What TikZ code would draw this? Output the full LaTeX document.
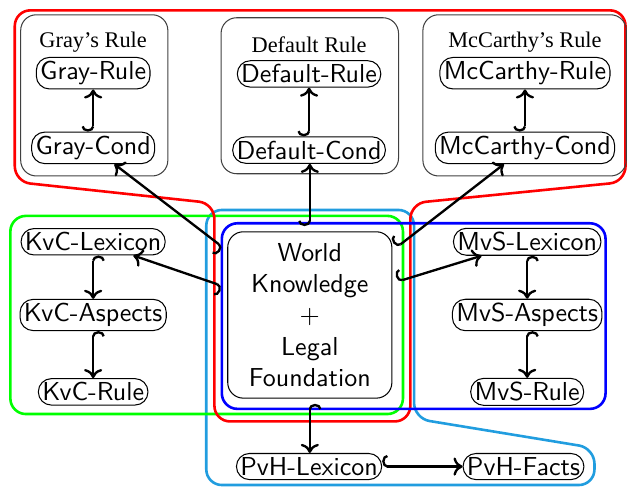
\documentclass[tikz,border=0pt]{standalone}
\usepackage{fontspec}
\newfontfamily\titlefont{Liberation Serif}
\usetikzlibrary{arrows.meta}

\tikzset{
  item/.style={draw, rounded corners=5pt, inner sep=1.5pt, font=\sffamily},
  title/.style={font=\titlefont\fontsize{8.6}{10}\selectfont, inner sep=1pt},
  frame/.style={draw=black!75, rounded corners=6pt},
  group/.style={line width=1pt, rounded corners=6pt},
  hk/.style={{Hooks[right,length=2pt,width=9pt]}-{To[length=3.5pt,width=7pt]}, line width=0.9pt},
}

\begin{document}
\begin{tikzpicture}
  \useasboundingbox (0,0) rectangle (8.48,6.59);

  % groups
  \draw[group, cyan!80!blue!90] (2.79,3.75) -- (5.60,3.75) -- (5.60,0.93) -- (8.04,0.53) -- (8.04,0.03) -- (2.79,0.03) -- cycle;
  \draw[group, green] (0.14,3.67) rectangle (5.45,0.99);
  \draw[group, red] (0.20,6.45) -- (8.46,6.45) -- (8.46,4.13) -- (5.55,3.84) -- (5.55,0.89) -- (2.90,0.89) -- (2.90,3.84) -- (0.20,4.13) -- cycle;
  \draw[group, blue] (3.00,3.57) rectangle (8.19,1.06);

  % rule frames
  \draw[frame] (0.28,6.39) rectangle (2.27,4.21);
  \draw[frame] (2.99,6.35) rectangle (5.39,4.24);
  \draw[frame] (5.72,6.39) rectangle (8.47,4.21);

  \node[title] (graytitle) at (1.26,6.02) {Gray’s Rule};
  \node[item] (grayrule) at (1.26,5.60) {Gray-Rule};
  \node[item] (graycond) at (1.26,4.59) {Gray-Cond};

  \node[title] (deftitle) at (4.18,5.99) {Default Rule};
  \node[item] (defrule) at (4.18,5.59) {Default-Rule};
  \node[item] (defcond) at (4.18,4.56) {Default-Cond};

  \node[title] (mctitle) at (7.10,6.02) {McCarthy’s Rule};
  \node[item] (mcrule) at (7.10,5.60) {McCarthy-Rule};
  \node[item] (mccond) at (7.10,4.59) {McCarthy-Cond};

  \node[item] (kvclex) at (1.26,3.32) {KvC-Lexicon};
  \node[item] (kvcasp) at (1.26,2.33) {KvC-Aspects};
  \node[item] (kvcrule) at (1.26,1.29) {KvC-Rule};

  \node[item] (mvslex) at (7.13,3.32) {MvS-Lexicon};
  \node[item] (mvsasp) at (7.13,2.33) {MvS-Aspects};
  \node[item] (mvsrule) at (7.13,1.29) {MvS-Rule};

  \node[item] (pvhlex) at (4.18,0.28) {PvH-Lexicon};
  \node[item] (pvhfacts) at (7.08,0.28) {PvH-Facts};

  \node[item, rounded corners=6pt, minimum width=2.22cm, minimum height=2.25cm, align=center] (world) at (4.19,2.33)
    {World\\Knowledge\\$+$\\Legal\\Foundation};

  % arrows
  \draw[hk] (graycond) -- (grayrule);
  \draw[hk] (defcond) -- (defrule);
  \draw[hk] (mccond) -- (mcrule);
  \draw[hk] (kvclex) -- (kvcasp);
  \draw[hk] (kvcasp) -- (kvcrule);
  \draw[hk] (mvslex) -- (mvsasp);
  \draw[hk] (mvsasp) -- (mvsrule);
  \draw[hk] (pvhlex) -- (pvhfacts);

  \draw[hk, shorten <=2pt] ([yshift=0.87cm]world.west) -- (graycond);
  \draw[hk, shorten <=2pt] ([yshift=0.37cm]world.west) -- (kvclex);
  \draw[hk, shorten <=2pt] ([yshift=0.87cm]world.east) -- (mccond);
  \draw[hk, shorten <=2pt] ([yshift=0.43cm]world.east) -- (mvslex);
  \draw[hk, shorten <=2pt] (world.north) -- (world.north |- defcond.south);
  \draw[hk, shorten <=2pt] (world.south) -- (world.south |- pvhlex.north);
\end{tikzpicture}
\end{document}
